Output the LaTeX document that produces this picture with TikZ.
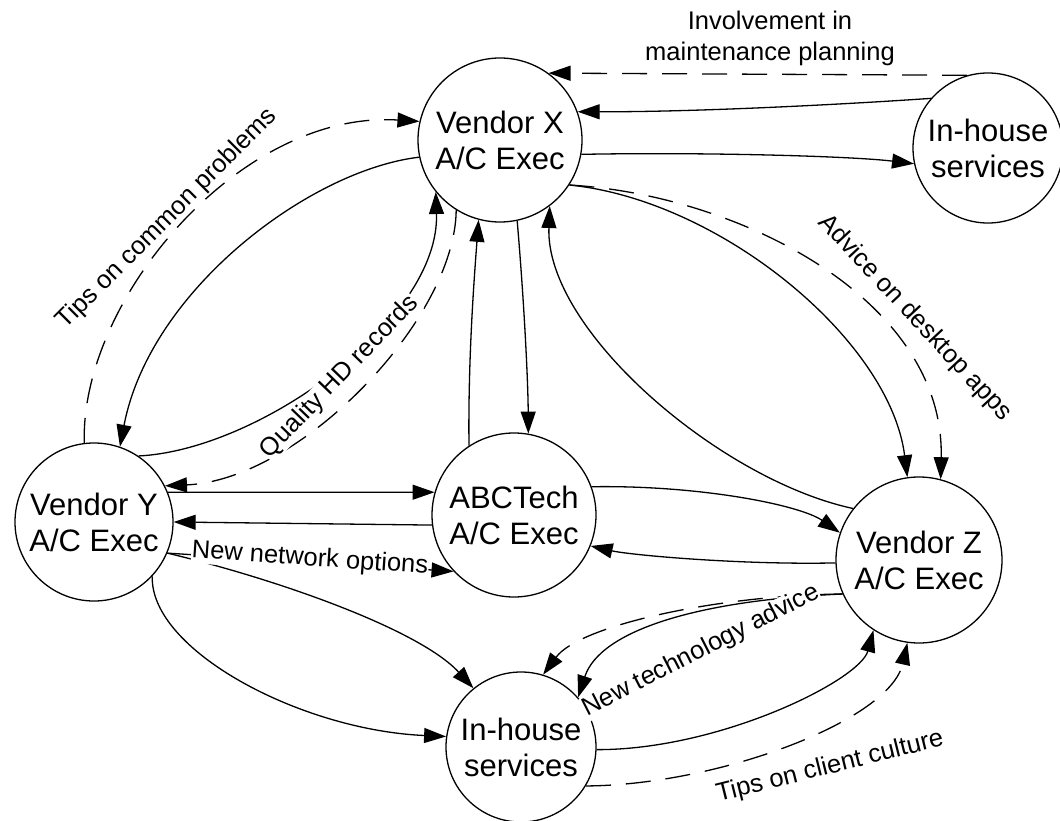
\documentclass[tikz,border=0pt]{standalone}
\usepackage{fontspec}
\setmainfont{Liberation Sans}
\usetikzlibrary{arrows.meta}
\begin{document}
\begin{tikzpicture}[x=1pt,y=-1pt,
  line width=1.3pt,
  party/.style={draw, circle, inner sep=0pt, line width=1.3pt, align=center,
    font=\fontsize{31}{36}\selectfont},
  flow/.style={-{Triangle[length=22pt,width=15pt]}},
  info/.style={flow, dash pattern=on 25pt off 15pt},
  lbl/.style={font=\fontsize{25.5}{31}\selectfont, align=center, inner sep=0.5pt},
  mask/.style={lbl, fill=white}]
\useasboundingbox (0,0) rectangle (1060,821);

% parties
\node[party, minimum size=164pt] (vx)  at (500,140) {Vendor X\\A/C Exec};
\node[party, minimum size=150pt] (ih1) at (988,148) {In-house\\services};
\node[party, minimum size=158pt] (vy)  at (94,522)  {Vendor Y\\A/C Exec};
\node[party, minimum size=164pt] (abc) at (514,515) {ABCTech\\A/C Exec};
\node[party, minimum size=166pt] (vz)  at (919,560) {Vendor Z\\A/C Exec};
\node[party, minimum size=150pt] (ih2) at (521,747) {In-house\\services};

% Vendor X and the top in-house services
\draw[info] (ih1.106) -- (vx.54);
\draw[flow] (ih1.139) .. controls (850,104) and (700,112) .. (vx.20);
\draw[flow] (vx.-10) .. controls (700,152) and (850,156) .. (ih1.192);

% Vendor X and Vendor Z
\draw[info] (vx.-33) .. controls (740,195) and (945,300) .. (vz.75);
\draw[flow] (vx.-33) .. controls (720,200) and (890,340) .. (vz.98);
\draw[flow] (vz.142) .. controls (720,480) and (545,330) .. (vx.-53);

% Vendor X and ABCTech
\draw[flow] (vx.-78) .. controls (524,300) and (528,380) .. (abc.80);
\draw[flow] (abc.123) .. controls (468,360) and (474,280) .. (vx.-105);

% Vendor X and Vendor Y
\draw[info] (vx.-122) .. controls (455,320) and (300,480) .. (vy.27);
\draw[flow] (vy.56) .. controls (260,450) and (440,320) .. (vx.-141);
\draw[flow] (vx.-168) .. controls (310,170) and (150,290) .. (vy.71);
\draw[info] (vy.97) .. controls (80,300) and (240,110) .. (vx.167);

% Vendor Y and ABCTech
\draw[flow] (vy.22) -- (abc.164);
\draw[flow] (abc.-173) -- (vy.0);
\draw[flow] (vy.-23) -- (abc.223);

% Vendor Y and the bottom in-house services
\draw[flow] (vy.-23) .. controls (280,580) and (420,630) .. (ih2.129);
\draw[flow] (vy.-43) .. controls (150,650) and (300,730) .. (ih2.172);

% ABCTech and Vendor Z
\draw[flow] (abc.20) .. controls (700,485) and (800,505) .. (vz.161);
\draw[flow] (vz.182) .. controls (740,565) and (630,555) .. (abc.-22);

% Vendor Z and the bottom in-house services
\draw[info] (vz.204) .. controls (720,595) and (580,625) .. (ih2.73);
\draw[flow] (vz.204) .. controls (700,600) and (600,630) .. (ih2.41);
\draw[flow] (ih2.-2) .. controls (720,750) and (860,680) .. (vz.-123);
\draw[info] (ih2.-31) .. controls (720,785) and (890,720) .. (vz.-98);

% labels
\node[lbl] (l1) at (770,38) {Involvement in\\maintenance planning};
\node[lbl, rotate=45] (l2) at (167,219) {Tips on common problems};
\node[mask, rotate=46] (l3) at (340,377) {Quality HD records};
\node[lbl, rotate=-47] (l4) at (915,318) {Advice on desktop apps};
\node[mask, rotate=-4] (l5) at (310,559) {New network options};
\node[mask, rotate=27] (l6) at (701,651) {New technology advice};
\node[lbl, rotate=14] (l7) at (830,767) {Tips on client culture};
\end{tikzpicture}
\end{document}
